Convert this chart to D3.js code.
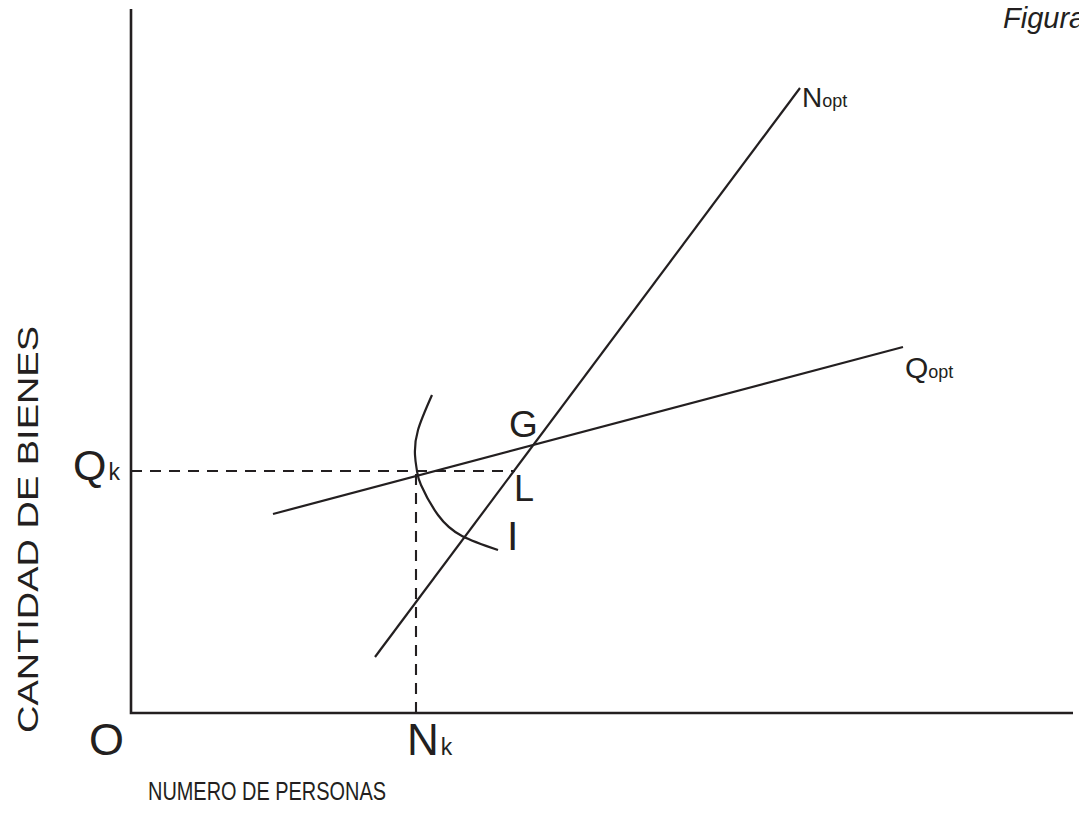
<!DOCTYPE html>
<html>
<head>
<meta charset="utf-8">
<script src="https://cdn.jsdelivr.net/npm/d3@7"></script>
<style>
  html, body { margin: 0; padding: 0; background: #fff; }
  svg { display: block; }
  text { font-family: "Liberation Sans", Arial, sans-serif; fill: #231f20; }
</style>
</head>
<body>
<svg id="chart" width="1079" height="840"></svg>
<script>
// Data in chart units (origin O at 0,0)
const axisExtent = { x: 942, y: 704 };
const nOptLine = [[244, 56], [669, 625]];
const qOptLine = [[142, 199], [772, 366]];
const qk = 242;          // Q_k level
const nk = 285;          // N_k level
const dashEndX = 384;    // horizontal dashed line end (point L)
const indiffCurve = [[301, 318], [287, 283], [284, 258], [286, 242], [290, 228], [307, 198], [331, 177], [367, 163]];
const labels = [
  { t: "G", x: 378, y: 276, size: 37 },
  { t: "L", x: 383, y: 212, size: 36 },
  { t: "I", x: 376, y: 163, size: 41 }
];

const ink = "#231f20";
const svg = d3.select("#chart");
const x = d3.scaleLinear().domain([0, 948]).range([131, 1079]);
const y = d3.scaleLinear().domain([0, 704]).range([713, 9]);
const line = d3.line().x(d => x(d[0])).y(d => y(d[1]));

// axes
svg.append("path").attr("d", line([[0, axisExtent.y], [0, 0], [axisExtent.x, 0]]))
  .attr("fill", "none").attr("stroke", ink).attr("stroke-width", 2.6);

// dashed guides
svg.append("path").attr("d", line([[0, qk], [dashEndX, qk]]))
  .attr("fill", "none").attr("stroke", ink).attr("stroke-width", 2.1).attr("stroke-dasharray", "11,8");
svg.append("path").attr("d", line([[nk, 0], [nk, qk]]))
  .attr("fill", "none").attr("stroke", ink).attr("stroke-width", 2.1).attr("stroke-dasharray", "11,8");

// lines
svg.append("path").attr("d", line(nOptLine)).attr("fill", "none").attr("stroke", ink).attr("stroke-width", 2.2);
svg.append("path").attr("d", line(qOptLine)).attr("fill", "none").attr("stroke", ink).attr("stroke-width", 2.2);
svg.append("path").attr("d", line.curve(d3.curveNatural)(indiffCurve))
  .attr("fill", "none").attr("stroke", ink).attr("stroke-width", 2.2);

// point labels
labels.forEach(l => {
  svg.append("text").attr("x", x(l.x)).attr("y", y(l.y)).attr("font-size", l.size).text(l.t);
});

// Subscripted labels
function sub(px, py, main, s, mainSize, subSize, gap) {
  const t = svg.append("text").attr("x", px).attr("y", py);
  t.append("tspan").attr("font-size", mainSize).text(main);
  t.append("tspan").attr("font-size", subSize).attr("dx", gap).text(s);
}
sub(x(-42), y(0) + 42, "O", "", 45, 22, 0);
sub(x(nk) - 9, y(0) + 42, "N", "k", 44, 23, 2);
sub(x(-58), y(qk) + 9, "Q", "k", 43, 23, 2);
sub(x(nOptLine[1][0]) + 2, y(nOptLine[1][1]) + 19, "N", "opt", 28, 18, 0);
sub(x(qOptLine[1][0]) + 2, y(qOptLine[1][1]) + 31, "Q", "opt", 30, 18, 0);

// axis titles
svg.append("text").attr("x", 148).attr("y", 800).attr("font-size", 25)
  .attr("textLength", 238).attr("lengthAdjust", "spacingAndGlyphs").text("NUMERO DE PERSONAS");
svg.append("text").attr("transform", "translate(38,733) rotate(-90)").attr("font-size", 29)
  .attr("textLength", 407).attr("lengthAdjust", "spacingAndGlyphs").text("CANTIDAD DE BIENES");

svg.append("text").attr("x", 1003).attr("y", 28).attr("font-size", 29).attr("font-style", "italic").text("Figura");
</script>
</body>
</html>
